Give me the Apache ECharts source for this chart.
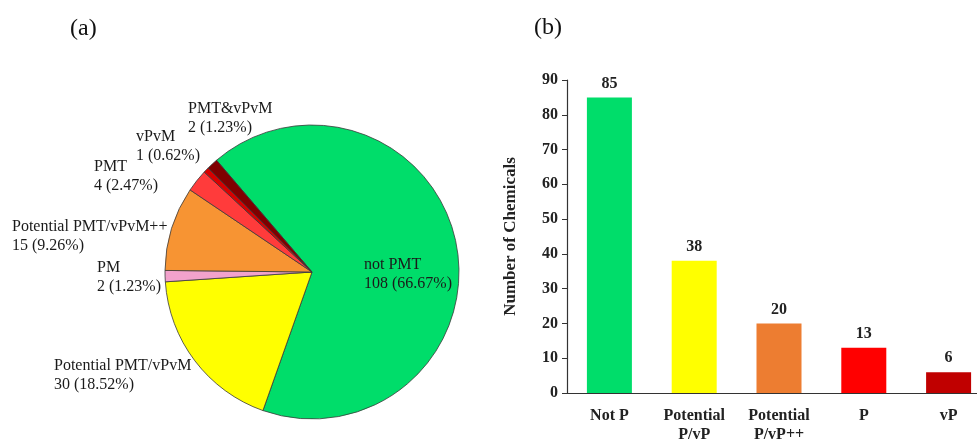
<!DOCTYPE html>
<html>
<head>
<meta charset="utf-8">
<script src="https://cdn.jsdelivr.net/npm/echarts@6/dist/echarts.min.js"></script>
<style>
  html, body { margin: 0; padding: 0; background: #fff; }
  #main { width: 977px; height: 439px; }
</style>
</head>
<body>
<div id="main"></div>
<script>
// (a) pie data, clockwise from the green slice
var pieNames = ["not PMT", "Potential PMT/vPvM", "PM", "Potential PMT/vPvM++", "PMT", "vPvM", "PMT&vPvM"];
var pieCounts = [108, 30, 2, 15, 4, 1, 2];
var pieColors = ["#00dd6a", "#ffff00", "#f2a2cc", "#f79433", "#ff3b3b", "#d80000", "#7f0000"];

// (b) bar data
var barCategories = ["Not P", "Potential\nP/vP", "Potential\nP/vP++", "P", "vP"];
var barCounts = [85, 38, 20, 13, 6];
var barColors = ["#00dd6a", "#ffff00", "#ed7d31", "#ff0000", "#c00000"];

var yTicks = { min: 0, max: 90, interval: 10 };

var serif = "Liberation Serif";

// where each pie label block goes (left edge, vertical middle)
var pieLabelPos = {
    "not PMT": [364, 274],
    "Potential PMT/vPvM": [54, 375],
    "PM": [97, 277],
    "Potential PMT/vPvM++": [12, 236],
    "PMT": [94, 176],
    "vPvM": [136, 146],
    "PMT&vPvM": [188, 118]
};

var pieData = [];
for (var i = 0; i < pieNames.length; i++) {
    pieData.push({ name: pieNames[i], value: pieCounts[i], itemStyle: { color: pieColors[i] } });
}
var barData = [];
for (var j = 0; j < barCounts.length; j++) {
    barData.push({ value: barCounts[j], itemStyle: { color: barColors[j] } });
}

var myChart = echarts.init(document.getElementById("main"));
var option = {
    animation: false,
    backgroundColor: "#fff",
    title: [
        { text: "(a)", left: 70, top: 17, padding: 0,
          textStyle: { fontFamily: serif, fontSize: 24, fontWeight: "normal", color: "#111" } },
        { text: "(b)", left: 534, top: 16, padding: 0,
          textStyle: { fontFamily: serif, fontSize: 24, fontWeight: "normal", color: "#111" } }
    ],
    grid: { left: 567, top: 80, width: 424, bottom: 46, outerBoundsMode: "none", containLabel: false },
    xAxis: {
        type: "category",
        data: barCategories,
        axisLine: { lineStyle: { color: "#333", width: 1.2 } },
        axisTick: { show: false },
        axisLabel: {
            margin: 13,
            fontFamily: serif, fontSize: 16, fontWeight: "bold", color: "#222", lineHeight: 19,
            interval: 0
        }
    },
    yAxis: {
        type: "value",
        min: yTicks.min, max: yTicks.max, interval: yTicks.interval,
        name: "Number of Chemicals",
        nameLocation: "middle",
        nameGap: 48,
        nameTextStyle: { fontFamily: serif, fontSize: 17, fontWeight: "bold", color: "#222" },
        axisLine: { show: true, lineStyle: { color: "#333", width: 1.2 } },
        axisTick: { show: true, length: 5, lineStyle: { color: "#333" } },
        splitLine: { show: false },
        axisLabel: { margin: 9, fontFamily: serif, fontSize: 16, fontWeight: "bold", color: "#222" }
    },
    series: [
        {
            name: "PMT",
            type: "pie",
            center: [312, 272],
            radius: 147,
            startAngle: 130.5,
            clockwise: true,
            itemStyle: { borderColor: "#3a3a3a", borderWidth: 0.8 },
            label: {
                show: true,
                position: "outside",
                overflow: "none",
                formatter: "{b}\n{c} ({d}%)",
                fontFamily: serif, fontSize: 16, lineHeight: 19, color: "#1a1a1a"
            },
            labelLine: { show: false },
            labelLayout: function (params) {
                var p = pieLabelPos[pieNames[params.dataIndex]];
                return { x: p[0], y: p[1], align: "left", verticalAlign: "middle" };
            },
            emphasis: { disabled: true },
            data: pieData
        },
        {
            name: "Chemicals",
            type: "bar",
            barWidth: 45,
            label: {
                show: true,
                position: "top",
                distance: 6,
                fontFamily: serif, fontSize: 16, fontWeight: "bold", color: "#222"
            },
            data: barData
        }
    ]
};
myChart.setOption(option);
</script>
</body>
</html>
